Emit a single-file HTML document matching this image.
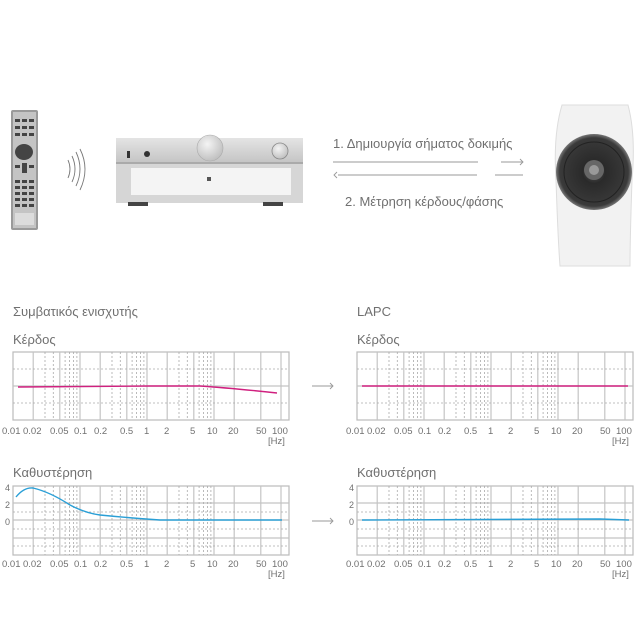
<!DOCTYPE html>
<html><head><meta charset="utf-8"><style>
html,body{margin:0;padding:0;background:#fff;}
svg{display:block;}
text{font-family:"Liberation Sans","DejaVu Sans",sans-serif;fill:#707070;}
</style></head><body>
<svg width="644" height="644" viewBox="0 0 644 644" xmlns="http://www.w3.org/2000/svg">
<defs>
<linearGradient id="sil" x1="0" y1="0" x2="0" y2="1"><stop offset="0" stop-color="#e4e4e4"/><stop offset="1" stop-color="#c4c4c4"/></linearGradient>
<radialGradient id="knob" cx="0.4" cy="0.35" r="0.7"><stop offset="0" stop-color="#f4f4f4"/><stop offset="1" stop-color="#bdbdbd"/></radialGradient>
<radialGradient id="cone" cx="0.5" cy="0.5" r="0.5"><stop offset="0" stop-color="#555"/><stop offset="0.3" stop-color="#2a2a2a"/><stop offset="0.9" stop-color="#3a3a3a"/><stop offset="1" stop-color="#777"/></radialGradient>
</defs>

<!-- Remote -->
<rect x="11" y="110" width="27" height="120" rx="2" fill="#9a9a9a"/>
<rect x="13" y="112" width="23" height="116" fill="#c4c4c4"/>
<g fill="#444">
<rect x="15" y="119" width="5" height="3"/><rect x="22" y="119" width="5" height="3"/><rect x="29" y="119" width="5" height="3"/>
<rect x="15" y="126" width="5" height="3"/><rect x="22" y="126" width="5" height="3"/><rect x="29" y="126" width="5" height="3"/>
<rect x="15" y="133" width="5" height="3"/><rect x="22" y="133" width="5" height="3"/><rect x="29" y="133" width="5" height="3"/>
<ellipse cx="24" cy="152" rx="9" ry="8"/>
<rect x="15" y="165" width="5" height="3"/><rect x="22" y="163" width="5" height="10"/><rect x="29" y="165" width="5" height="3"/>
<rect x="15" y="180" width="5" height="3"/><rect x="22" y="180" width="5" height="3"/><rect x="29" y="180" width="5" height="3"/>
<rect x="15" y="186" width="5" height="3"/><rect x="22" y="186" width="5" height="3"/><rect x="29" y="186" width="5" height="3"/>
<rect x="15" y="192" width="5" height="3"/><rect x="22" y="192" width="5" height="3"/><rect x="29" y="192" width="5" height="3"/>
<rect x="15" y="198" width="5" height="3"/><rect x="22" y="198" width="5" height="3"/><rect x="29" y="198" width="5" height="3"/>
<rect x="15" y="204" width="5" height="3"/><rect x="22" y="204" width="5" height="3"/><rect x="29" y="204" width="5" height="3"/>
</g>
<rect x="15" y="213" width="19" height="12" fill="#dcdcdc"/>

<!-- waves -->
<g fill="none" stroke="#777" stroke-width="0.9">
<path d="M68 160 Q72 169 68 178"/><path d="M72 156 Q78 169 72 182"/><path d="M76 152 Q84 169 76 186"/><path d="M80 149 Q90 169 80 190"/>
</g>

<!-- Amp -->
<rect x="116" y="138" width="187" height="25" fill="url(#sil)"/>
<rect x="116" y="163" width="187" height="40" fill="#d6d6d6"/>
<rect x="131" y="168" width="160" height="27" fill="#f4f4f4"/>
<rect x="116" y="162" width="187" height="2" fill="#aaa"/>
<circle cx="210" cy="148" r="13" fill="url(#knob)" stroke="#aaa" stroke-width="0.6"/>
<circle cx="280" cy="151" r="8" fill="url(#knob)" stroke="#888" stroke-width="0.8"/>
<rect x="127" y="151" width="3" height="7" fill="#333"/>
<circle cx="147" cy="154" r="3" fill="#333"/>
<rect x="207" y="177" width="4" height="4" fill="#555"/>
<rect x="128" y="202" width="20" height="4" fill="#444"/><rect x="263" y="202" width="20" height="4" fill="#444"/>

<!-- Speaker -->
<path d="M562 105 L628 105 Q636 135 632 180 Q630 240 630 266 L560 266 Q558 240 556 180 Q553 135 562 105 Z" fill="#f2f2f2" stroke="#ddd"/>
<circle cx="594" cy="172" r="38" fill="url(#cone)"/>
<circle cx="594" cy="172" r="30" fill="none" stroke="#222" stroke-width="1"/>
<circle cx="594" cy="170" r="10" fill="#666"/>
<circle cx="594" cy="170" r="5" fill="#999"/>

<!-- top arrows -->
<text x="333" y="148" font-size="13">1. Δημιουργία σήματος δοκιμής</text>
<text x="345" y="206" font-size="13">2. Μέτρηση κέρδους/φάσης</text>
<g stroke="#999" stroke-width="0.9" fill="none">
<line x1="333" y1="162" x2="478" y2="162"/><line x1="501" y1="162" x2="523" y2="162"/><path d="M520 159 L523 162 L520 165"/>
<line x1="338" y1="175" x2="477" y2="175"/><line x1="495" y1="175" x2="523" y2="175"/><path d="M337 172 L334 175 L337 178"/>
</g>

<!-- Section titles -->
<text x="13" y="316" font-size="13">Συμβατικός ενισχυτής</text>
<text x="357" y="316" font-size="13">LAPC</text>
<text x="13" y="344" font-size="13">Κέρδος</text>
<text x="357" y="344" font-size="13">Κέρδος</text>
<text x="13" y="477" font-size="13">Καθυστέρηση</text>
<text x="357" y="477" font-size="13">Καθυστέρηση</text>

<!-- Gain grids -->
<g id="gg">
<rect x="13" y="352" width="276" height="68" fill="none" stroke="#bbb" stroke-width="1.2"/>
<g stroke="#c4c4c4" stroke-width="1.2">
<line x1="13" y1="386" x2="289" y2="386"/>
<line x1="33.2" y1="352" x2="33.2" y2="420"/><line x1="59.8" y1="352" x2="59.8" y2="420"/><line x1="80" y1="352" x2="80" y2="420"/>
<line x1="100.2" y1="352" x2="100.2" y2="420"/><line x1="126.8" y1="352" x2="126.8" y2="420"/><line x1="147" y1="352" x2="147" y2="420"/>
<line x1="167.2" y1="352" x2="167.2" y2="420"/><line x1="193.8" y1="352" x2="193.8" y2="420"/><line x1="214" y1="352" x2="214" y2="420"/>
<line x1="234.2" y1="352" x2="234.2" y2="420"/><line x1="260.8" y1="352" x2="260.8" y2="420"/><line x1="281" y1="352" x2="281" y2="420"/>
</g>
<g stroke="#aaa" stroke-width="0.8" stroke-dasharray="2,2">
<line x1="13" y1="369" x2="289" y2="369"/><line x1="13" y1="403" x2="289" y2="403"/>
<line x1="45" y1="352" x2="45" y2="420"/><line x1="53.3" y1="352" x2="53.3" y2="420"/><line x1="65.1" y1="352" x2="65.1" y2="420"/><line x1="69.6" y1="352" x2="69.6" y2="420"/><line x1="73.5" y1="352" x2="73.5" y2="420"/><line x1="76.9" y1="352" x2="76.9" y2="420"/>
<line x1="112" y1="352" x2="112" y2="420"/><line x1="120.3" y1="352" x2="120.3" y2="420"/><line x1="132.1" y1="352" x2="132.1" y2="420"/><line x1="136.6" y1="352" x2="136.6" y2="420"/><line x1="140.5" y1="352" x2="140.5" y2="420"/><line x1="143.9" y1="352" x2="143.9" y2="420"/>
<line x1="179" y1="352" x2="179" y2="420"/><line x1="187.3" y1="352" x2="187.3" y2="420"/><line x1="199.1" y1="352" x2="199.1" y2="420"/><line x1="203.6" y1="352" x2="203.6" y2="420"/><line x1="207.5" y1="352" x2="207.5" y2="420"/><line x1="210.9" y1="352" x2="210.9" y2="420"/>
</g>
</g>
<use href="#gg" x="344" y="0"/>

<!-- Delay grids -->
<g id="dg">
<rect x="13" y="486" width="276" height="69" fill="none" stroke="#bbb" stroke-width="1.2"/>
<g stroke="#c4c4c4" stroke-width="1.2">
<line x1="13" y1="503" x2="289" y2="503"/><line x1="13" y1="520" x2="289" y2="520"/><line x1="13" y1="538" x2="289" y2="538"/>
<line x1="33.2" y1="486" x2="33.2" y2="555"/><line x1="59.8" y1="486" x2="59.8" y2="555"/><line x1="80" y1="486" x2="80" y2="555"/>
<line x1="100.2" y1="486" x2="100.2" y2="555"/><line x1="126.8" y1="486" x2="126.8" y2="555"/><line x1="147" y1="486" x2="147" y2="555"/>
<line x1="167.2" y1="486" x2="167.2" y2="555"/><line x1="193.8" y1="486" x2="193.8" y2="555"/><line x1="214" y1="486" x2="214" y2="555"/>
<line x1="234.2" y1="486" x2="234.2" y2="555"/><line x1="260.8" y1="486" x2="260.8" y2="555"/><line x1="281" y1="486" x2="281" y2="555"/>
</g>
<g stroke="#aaa" stroke-width="0.8" stroke-dasharray="2,2">
<line x1="13" y1="512" x2="289" y2="512"/><line x1="13" y1="529" x2="289" y2="529"/><line x1="13" y1="546" x2="289" y2="546"/>
<line x1="45" y1="486" x2="45" y2="555"/><line x1="53.3" y1="486" x2="53.3" y2="555"/><line x1="65.1" y1="486" x2="65.1" y2="555"/><line x1="69.6" y1="486" x2="69.6" y2="555"/><line x1="73.5" y1="486" x2="73.5" y2="555"/><line x1="76.9" y1="486" x2="76.9" y2="555"/>
<line x1="112" y1="486" x2="112" y2="555"/><line x1="120.3" y1="486" x2="120.3" y2="555"/><line x1="132.1" y1="486" x2="132.1" y2="555"/><line x1="136.6" y1="486" x2="136.6" y2="555"/><line x1="140.5" y1="486" x2="140.5" y2="555"/><line x1="143.9" y1="486" x2="143.9" y2="555"/>
<line x1="179" y1="486" x2="179" y2="555"/><line x1="187.3" y1="486" x2="187.3" y2="555"/><line x1="199.1" y1="486" x2="199.1" y2="555"/><line x1="203.6" y1="486" x2="203.6" y2="555"/><line x1="207.5" y1="486" x2="207.5" y2="555"/><line x1="210.9" y1="486" x2="210.9" y2="555"/>
</g>
<text x="5" y="491" font-size="9">4</text><text x="5" y="508" font-size="9">2</text><text x="5" y="525" font-size="9">0</text>
</g>
<use href="#dg" x="344" y="0"/>

<!-- axis labels -->
<g id="ax" font-size="9.5">
<text x="2" y="434">0.01</text><text x="23" y="434">0.02</text><text x="50" y="434">0.05</text><text x="74" y="434">0.1</text>
<text x="94" y="434">0.2</text><text x="120" y="434">0.5</text><text x="144" y="434">1</text><text x="164" y="434">2</text>
<text x="190" y="434">5</text><text x="207" y="434">10</text><text x="228" y="434">20</text><text x="256" y="434">50</text><text x="272" y="434">100</text>
<text x="268" y="444">[Hz]</text>
</g>
<use href="#ax" x="344" y="0"/>
<use href="#ax" x="0" y="133"/>
<use href="#ax" x="344" y="133"/>

<!-- curves -->
<path d="M18 387 L150 386 L200 386 Q230 388 277 393" fill="none" stroke="#d0207f" stroke-width="1.4"/>
<line x1="362" y1="386" x2="628" y2="386" stroke="#d0207f" stroke-width="1.4"/>
<path d="M16 497 Q24 487 33 488 Q50 492 70 505 Q85 513 100 515 Q130 518 160 520 L282 520" fill="none" stroke="#2a9fd6" stroke-width="1.4"/>
<path d="M362 520 L600 519 L629 520" fill="none" stroke="#2a9fd6" stroke-width="1.4"/>

<!-- between arrows -->
<g stroke="#999" stroke-width="0.9" fill="none">
<line x1="312" y1="386" x2="333" y2="386"/><path d="M330 383 L333 386 L330 389"/>
<line x1="312" y1="521" x2="333" y2="521"/><path d="M330 518 L333 521 L330 524"/>
</g>
</svg>
</body></html>
